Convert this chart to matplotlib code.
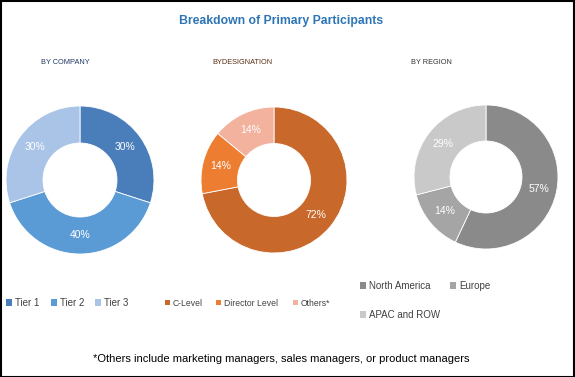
import matplotlib
matplotlib.use("Agg")
import matplotlib.pyplot as plt
from matplotlib.patches import Rectangle, Patch

# data
company_labels = ["Tier 1", "Tier 2", "Tier 3"]
company_vals = [30, 40, 30]
desig_labels = ["C-Level", "Director Level", "Others*"]
desig_vals = [72, 14, 14]
region_labels = ["North America", "Europe", "APAC and ROW"]
region_vals = [57, 14, 29]

company_cols = ["#4A7EBB", "#5B9BD5", "#A9C4E6"]
desig_cols = ["#C9682B", "#ED7D31", "#F2B29D"]
region_cols = ["#8A8A8A", "#A5A5A5", "#C9C9C9"]

W, H = 575, 377
plt.rcParams['font.family'] = ['Liberation Sans', 'DejaVu Sans']
fig = plt.figure(figsize=(W / 100, H / 100), dpi=100)


def px_axes(cx, cy, r):
    # axes square of side 2r centred at pixel (cx, cy) measured from top-left
    return fig.add_axes([(cx - r) / W, 1 - (cy + r) / H, 2 * r / W, 2 * r / H])


def donut(cx, cy, r, vals, cols):
    ax = px_axes(cx, cy, r)
    wedges, _, autotexts = ax.pie(vals, colors=cols, startangle=90, counterclock=False,
                                  radius=1, autopct=lambda p: "%d%%" % round(p),
                                  pctdistance=0.75,
                                  wedgeprops=dict(width=0.5, edgecolor="white", linewidth=0.6),
                                  textprops=dict(color="white", fontsize=7.5))
    ax.set_xlim(-1, 1)
    ax.set_ylim(-1, 1)
    ax.axis("off")
    return wedges


donut(80, 180, 74, company_vals, company_cols)
donut(274, 180, 73, desig_vals, desig_cols)
donut(486, 177, 72, region_vals, region_cols)

fig.text(281 / W, 1 - 21 / H, "Breakdown of Primary Participants", ha="center", va="center",
         fontsize=8.8, fontweight="bold", color="#2E75B6")

sub_font = ['Liberation Sans', 'DejaVu Sans']
fig.text(65 / W, 1 - 62 / H, "BY COMPANY", ha="center", va="center", fontsize=5.3,
         color="#1F3864", family=sub_font)
fig.text(242 / W, 1 - 62 / H, "BYDESIGNATION", ha="center", va="center", fontsize=5.3,
         color="#5A2E12", family=sub_font)
fig.text(431 / W, 1 - 62 / H, "BY REGION", ha="center", va="center", fontsize=5.3,
         color="#333333", family=sub_font)

# legends, one entry each
legend_items = [
    (company_labels[0], company_cols[0], 6, 303, 7),
    (company_labels[1], company_cols[1], 51, 303, 7),
    (company_labels[2], company_cols[2], 95, 303, 7),
    (desig_labels[0], desig_cols[0], 165, 303, 6.2),
    (desig_labels[1], desig_cols[1], 216, 303, 6.2),
    (desig_labels[2], desig_cols[2], 293, 303, 6.2),
    (region_labels[0], region_cols[0], 360, 286, 7),
    (region_labels[1], region_cols[1], 450, 286, 7),
    (region_labels[2], region_cols[2], 360, 315, 7),
]
for lab, col, x, y, fs in legend_items:
    fig.legend(handles=[Patch(facecolor=col, edgecolor="none")], labels=[lab],
               loc="center left", bbox_to_anchor=(x / W, 1 - y / H), frameon=False,
               handlelength=0.6, handleheight=0.6, handletextpad=0.3, borderpad=0,
               borderaxespad=0, prop=dict(size=fs, family=sub_font), labelcolor="#404040")

fig.text(281 / W, 1 - 359 / H,
         "*Others include marketing managers, sales managers, or product managers",
         ha="center", va="center", fontsize=8.0, color="black")

fig.patches.append(Rectangle((0.5 / W, 0.5 / H), 1 - 1.5 / W, 1 - 1.5 / H, transform=fig.transFigure,
                             fill=False, edgecolor="black", linewidth=1.5))

fig.savefig("out.png", dpi=100)
